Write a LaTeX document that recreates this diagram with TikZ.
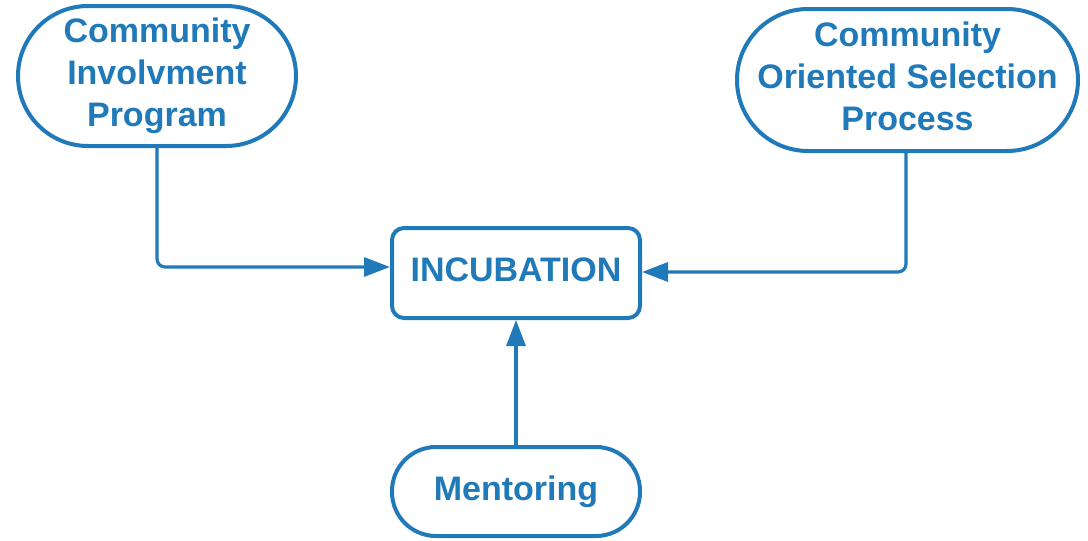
\documentclass[tikz,border=0pt]{standalone}
\usepackage{fontspec}
\setmainfont{Liberation Sans}
\usetikzlibrary{arrows.meta}
\definecolor{blu}{HTML}{2079B8}
\begin{document}
\begin{tikzpicture}[x=1pt,y=-1pt,
  box/.style={draw=blu,line width=4pt,text=blu,align=center,inner sep=0pt,
    font=\fontsize{34}{42}\selectfont\bfseries},
  conn/.style={draw=blu,line width=3.2pt,rounded corners=8pt,
    -{Triangle[length=26pt,width=19pt]}}]
\useasboundingbox (0,0) rectangle (1088,541);
\node[box,minimum width=278pt,minimum height=140pt,rounded corners=70pt] (L) at (157,76)
  {Community\\Involvment\\Program};
\node[box,minimum width=341pt,minimum height=142pt,rounded corners=71pt,text depth=8pt] (R) at (907.5,80)
  {Community\\Oriented Selection\\Process};
\node[box,minimum width=248pt,minimum height=90pt,rounded corners=12pt,text depth=6pt] (I) at (516,273)
  {INCUBATION};
\node[box,minimum width=248pt,minimum height=89pt,rounded corners=44pt] (M) at (516,491.5)
  {Mentoring};
\draw[conn] (L.south) |- ([yshift=6pt]I.west);
\draw[conn] ([xshift=-1.5pt]R.south) |- ([yshift=1pt]I.east);
\draw[conn] (M.north) -- (I.south);
\end{tikzpicture}
\end{document}
